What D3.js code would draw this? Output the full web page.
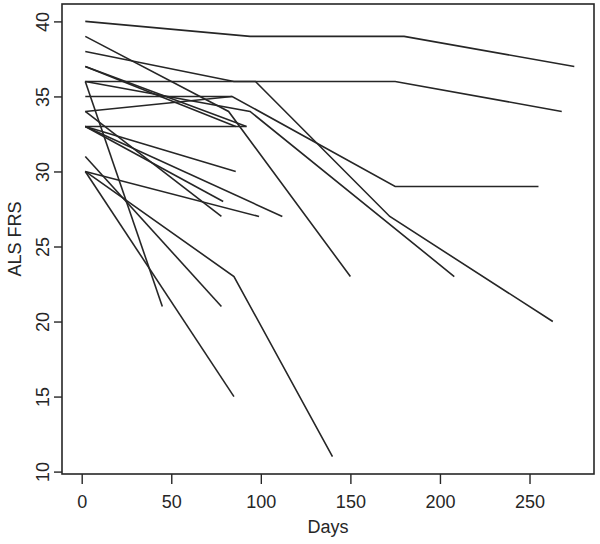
<!DOCTYPE html>
<html>
<head>
<meta charset="utf-8">
<script src="https://cdn.jsdelivr.net/npm/d3@7"></script>
<style>
    body { margin: 0; background: #fff; }
    .axis text { font-family: 'Liberation Sans', Arial, sans-serif; font-size: 18px; fill: #262626; }
    .axis path, .axis line { stroke: #262626; stroke-width: 1.4; }
    .patient { fill: none; stroke: #262626; stroke-width: 1.6; }
    .frame { fill: none; stroke: #262626; stroke-width: 1.6; }
    .label { font-family: 'Liberation Sans', Arial, sans-serif; font-size: 18px; fill: #262626; }
</style>
</head>
<body>
<div id="chart"></div>
<script>
// one entry per subject: visit days and the ALS FRS score at each visit
const subjects = ['S01', 'S02', 'S03', 'S04', 'S05', 'S06', 'S07', 'S08', 'S09', 'S10',
    'S11', 'S12', 'S13', 'S14', 'S15', 'S16', 'S17', 'S18', 'S19'];

const visitDays = [
    [2, 94, 180, 275],
    [2, 175, 268],
    [2, 85, 97, 172, 263],
    [2, 82, 150],
    [2, 86],
    [2, 92],
    [2, 84, 175, 255],
    [2, 84],
    [2, 94, 208],
    [2, 45],
    [2, 92],
    [2, 86],
    [2, 112],
    [2, 79],
    [2, 78],
    [2, 99],
    [2, 85],
    [2, 78],
    [2, 85, 140]
];

const alsFrs = [
    [40, 39, 39, 37],
    [36, 36, 34],
    [38, 36, 36, 27, 20],
    [39, 34, 23],
    [37, 33],
    [37, 33],
    [35, 35, 29, 29],
    [34, 35],
    [36, 34, 23],
    [36, 21],
    [33, 33],
    [33, 30],
    [33, 27],
    [33, 28],
    [34, 27],
    [30, 27],
    [30, 15],
    [31, 21],
    [30, 23, 11]
];

const xTicks = [0, 50, 100, 150, 200, 250];
const yTicks = [10, 15, 20, 25, 30, 35, 40];

let width = 600, height = 544;
let plotLeft = 62, plotRight = 594, plotTop = 4, plotBottom = 474;

let x = d3.scaleLinear().domain([-11, 286]).range([plotLeft, plotRight]);
let y = d3.scaleLinear().domain([9.84, 41.16]).range([plotBottom, plotTop]);

let svg = d3.select('#chart')
    .append('svg')
    .attr('width', width)
    .attr('height', height);

let data = subjects.map(function(s, i) {
    return visitDays[i].map(function(d, j) { return [d, alsFrs[i][j]]; });
});

let line = d3.line()
    .x(function(d) { return x(d[0]); })
    .y(function(d) { return y(d[1]); });

svg.append('g')
    .selectAll('path')
    .data(data)
    .enter()
    .append('path')
    .attr('class', 'patient')
    .attr('d', line);

svg.append('rect')
    .attr('class', 'frame')
    .attr('x', plotLeft)
    .attr('y', plotTop)
    .attr('width', plotRight - plotLeft)
    .attr('height', plotBottom - plotTop);

// x axis
let xAxis = svg.append('g')
    .attr('class', 'axis')
    .attr('transform', 'translate(0,' + plotBottom + ')')
    .call(d3.axisBottom(x).tickValues(xTicks).tickSize(10).tickPadding(11).tickSizeOuter(0));
xAxis.select('.domain').remove();

// y axis, labels parallel to the axis
let yAxis = svg.append('g')
    .attr('class', 'axis')
    .attr('transform', 'translate(' + plotLeft + ',0)')
    .call(d3.axisLeft(y).tickValues(yTicks).tickSize(8).tickSizeOuter(0));
yAxis.select('.domain').remove();
yAxis.selectAll('.tick text')
    .attr('x', 0)
    .attr('y', 0)
    .attr('dy', 0)
    .attr('text-anchor', 'middle')
    .attr('transform', 'translate(-13,0) rotate(-90)');

svg.append('text')
    .attr('class', 'label')
    .attr('x', (plotLeft + plotRight) / 2)
    .attr('y', 533)
    .attr('text-anchor', 'middle')
    .text('Days');

svg.append('text')
    .attr('class', 'label')
    .attr('text-anchor', 'middle')
    .attr('transform', 'translate(21,' + ((plotTop + plotBottom) / 2) + ') rotate(-90)')
    .text('ALS FRS');
</script>
</body>
</html>
